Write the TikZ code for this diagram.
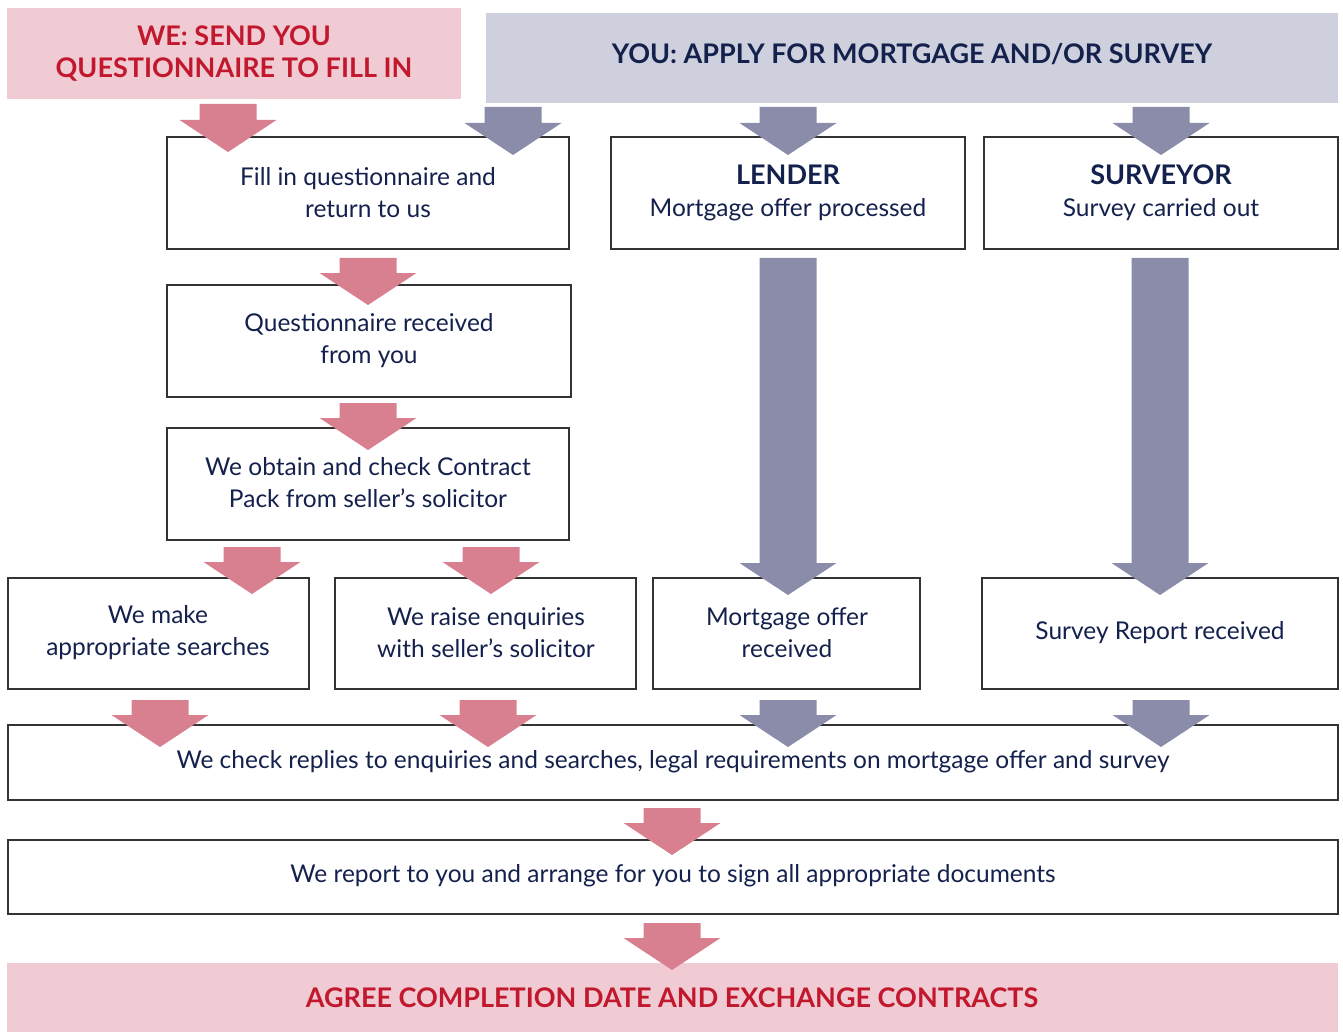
\documentclass[tikz,border=0pt]{standalone}
\usepackage{fontspec}
\setmainfont{Lato}
\definecolor{pinkband}{HTML}{F0CBD3}
\definecolor{blueband}{HTML}{CED1DD}
\definecolor{pinkarr}{HTML}{D98090}
\definecolor{bluearr}{HTML}{8A8CAA}
\definecolor{titlered}{HTML}{C1182E}
\definecolor{navy}{HTML}{14214D}
\definecolor{boxline}{HTML}{333333}
\newcommand{\barrow}[4]{%
  \fill[#1] ({#2-28.5},#3) -- ({#2+28.5},#3) -- ({#2+28.5},{#4-32}) -- ({#2+48.5},{#4-32})
    -- (#2,#4) -- ({#2-48.5},{#4-32}) -- ({#2-28.5},{#4-32}) -- cycle;}
\newcommand{\hd}[1]{{\fontsize{27}{32}\selectfont\bfseries #1}}
\tikzset{
  stepbox/.style={draw=boxline, line width=1.4pt, fill=white},
  boxtext/.style={text=navy, align=center, font=\fontsize{24.5}{32}\selectfont},
  bandtext/.style={text=titlered, align=center, font=\fontsize{27}{32}\selectfont\bfseries},
  bluetext/.style={text=navy, align=center, font=\fontsize{27}{32}\selectfont\bfseries},
}
\begin{document}
\begin{tikzpicture}[x=1pt,y=-1pt]
\useasboundingbox (0,0) rectangle (1343,1032);
% bands
\fill[pinkband] (7,8) rectangle (461,99);
\fill[blueband] (486,13) rectangle (1338,103);
\fill[pinkband] (7,963) rectangle (1338,1032);
\node[bandtext] (t1) at (234,54) {WE: SEND YOU\\QUESTIONNAIRE TO FILL IN};
\node[bluetext] (t2) at (912,54) {YOU: APPLY FOR MORTGAGE AND/OR SURVEY};
\node[bandtext] (t3) at (672,998) {AGREE COMPLETION DATE AND EXCHANGE CONTRACTS};
% boxes
\draw[stepbox] (167,137) rectangle (569,249);
\draw[stepbox] (611,137) rectangle (965,249);
\draw[stepbox] (984,137) rectangle (1338,249);
\draw[stepbox] (167,285) rectangle (571,397);
\draw[stepbox] (167,428) rectangle (569,540);
\draw[stepbox] (8,578) rectangle (309,689);
\draw[stepbox] (335,578) rectangle (636,689);
\draw[stepbox] (653,578) rectangle (920,689);
\draw[stepbox] (982,578) rectangle (1338,689);
\draw[stepbox] (8,725) rectangle (1338,800);
\draw[stepbox] (8,840) rectangle (1338,914);
% arrows
\barrow{pinkarr}{228}{104}{152}
\barrow{bluearr}{513}{107}{155}
\barrow{bluearr}{788}{107}{155}
\barrow{bluearr}{1161}{107}{155}
\barrow{pinkarr}{368}{258}{305}
\barrow{pinkarr}{368}{403}{450}
\barrow{pinkarr}{252}{547}{594}
\barrow{pinkarr}{491}{547}{594}
\barrow{bluearr}{788}{258}{595}
\barrow{bluearr}{1160}{258}{595}
\barrow{pinkarr}{160}{700}{747}
\barrow{pinkarr}{488}{700}{747}
\barrow{bluearr}{788}{700}{747}
\barrow{bluearr}{1161}{700}{747}
\barrow{pinkarr}{672}{808}{855}
\barrow{pinkarr}{672}{923}{970}
% texts
\node[boxtext] (a) at (368,193) {Fill in questionnaire and\\return to us};
\node[boxtext] (l) at (788,193) {\hd{LENDER}\\Mortgage offer processed};
\node[boxtext] (s) at (1161,193) {\hd{SURVEYOR}\\Survey carried out};
\node[boxtext] (b) at (369,341) {Questionnaire received\\from you};
\node[boxtext] (c) at (368,483) {We obtain and check Contract\\Pack from seller’s solicitor};
\node[boxtext] (d) at (158,633) {We make\\appropriate searches};
\node[boxtext] (e) at (486,633) {We raise enquiries\\with seller’s solicitor};
\node[boxtext] (f) at (787,633) {Mortgage offer\\received};
\node[boxtext] (g) at (1160,633) {Survey Report received};
\node[boxtext] (h) at (673,762) {We check replies to enquiries and searches, legal requirements on mortgage offer and survey};
\node[boxtext] (i) at (673,876) {We report to you and arrange for you to sign all appropriate documents};
\end{tikzpicture}
\end{document}
